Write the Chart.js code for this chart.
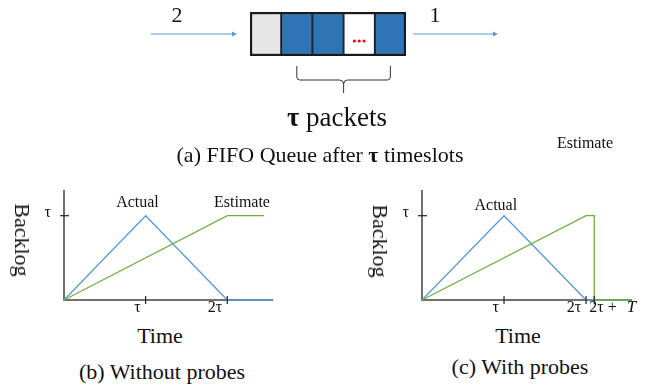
<!DOCTYPE html>
<html>
<head>
<meta charset="utf-8">
<script src="https://cdn.jsdelivr.net/npm/chart.js@4.4.0/dist/chart.umd.min.js"></script>
<style>
body { margin: 0; background: #fff; }
#page { position: relative; width: 651px; height: 390px; overflow: hidden; font-family: 'Liberation Serif', 'Times New Roman', serif; color: #111; }
canvas { position: absolute; }
.lbl { position: absolute; white-space: nowrap; line-height: 1; transform: translate(-50%, -50%); }
.vert { transform: translate(-50%, -50%) rotate(90deg); }
</style>
</head>
<body>
<div id="page">
  <canvas id="queueChart" width="651" height="170" style="left:0;top:0"></canvas>
  <canvas id="chartB" width="330" height="140" style="left:0;top:180px"></canvas>
  <canvas id="chartC" width="321" height="140" style="left:330px;top:180px"></canvas>

  <div class="lbl" style="left:177px;top:15px;font-size:22px">2</div>
  <div class="lbl" style="left:435px;top:15px;font-size:22px">1</div>
  <div class="lbl" style="left:337px;top:117px;font-size:27px"><b>τ</b> packets</div>
  <div class="lbl" style="left:320px;top:155px;font-size:22px">(a) FIFO Queue after <b>τ</b> timeslots</div>
  <div class="lbl" style="left:585px;top:143px;font-size:16px">Estimate</div>

  <div class="lbl vert" style="left:22px;top:240px;font-size:22px">Backlog</div>
  <div class="lbl" style="left:160px;top:336px;font-size:22px">Time</div>
  <div class="lbl" style="left:162px;top:372px;font-size:22px">(b) Without probes</div>

  <div class="lbl vert" style="left:380px;top:241px;font-size:22px">Backlog</div>
  <div class="lbl" style="left:518px;top:336px;font-size:22px">Time</div>
  <div class="lbl" style="left:520px;top:367px;font-size:22px">(c) With probes</div>
</div>
<script>
// queue after tau timeslots: one cell per slot
var queueCells = ['empty', 'packet', 'packet', 'gap', 'packet'];
var cellColors = { empty: '#e6e6e6', packet: '#2e75b6', gap: '#ffffff' };

// backlog curves, time in units of tau, backlog in units of tau
var actualTimeB = [0, 1, 2, 2.55];
var actualBacklogB = [0, 1, 0, 0];
var estimateTimeB = [0, 2, 2.45];
var estimateBacklogB = [0, 1, 1];

var actualTimeC = [0, 1, 2, 2.55];
var actualBacklogC = [0, 1, 0, 0];
var estimateTimeC = [0, 2, 2.1, 2.1, 2.55];
var estimateBacklogC = [0, 1, 1, 0, 0];

var xTicksB = [1, 2];
var xTickLabelsB = ['τ', '2τ'];
var xTicksC = [1, 2, 2.1];
var xTickLabelsC = ['τ', '2τ', '2τ + T'];
var yTicks = [1];
var yTickLabels = ['τ'];

Chart.defaults.font.family = "'Liberation Serif', 'Times New Roman', serif";

function puntos(xs, ys) {
    let res = [];
    for (let i = 0; i < xs.length; i++) {
        res.push({ x: xs[i], y: ys[i] });
    }
    return res;
}

var queuePlugin = {
    id: 'queueDeco',
    afterDatasetsDraw: function (chart) {
        const ctx = chart.ctx;
        const a = chart.chartArea;
        const x = chart.scales.x;
        const midY = (a.top + a.bottom) / 2;
        ctx.save();

        // red dots in the gap cell
        let gap = queueCells.indexOf('gap');
        let cx = x.getPixelForValue(gap + 0.5);
        ctx.fillStyle = '#ff0000';
        for (let k = -1; k <= 1; k++) {
            ctx.beginPath();
            ctx.arc(cx + k * 4.8, midY + 7, 1.6, 0, Math.PI * 2);
            ctx.fill();
        }

        // in / out arrows
        ctx.strokeStyle = '#5b9bd5';
        ctx.fillStyle = '#5b9bd5';
        ctx.lineWidth = 1;
        function flecha(x0, x1) {
            ctx.beginPath();
            ctx.moveTo(x0, midY);
            ctx.lineTo(x1 - 4, midY);
            ctx.stroke();
            ctx.beginPath();
            ctx.moveTo(x1, midY);
            ctx.lineTo(x1 - 5, midY - 2.5);
            ctx.lineTo(x1 - 5, midY + 2.5);
            ctx.closePath();
            ctx.fill();
        }
        flecha(a.left - 99, a.left - 13);
        flecha(a.right + 7, a.right + 92);

        // brace under the tau packets
        let b0 = x.getPixelForValue(1.5);
        let b1 = x.getPixelForValue(4.5);
        let bm = (b0 + b1) / 2;
        let top = a.bottom + 10, mid = a.bottom + 24, tip = a.bottom + 37;
        ctx.strokeStyle = '#333';
        ctx.lineWidth = 1;
        ctx.beginPath();
        ctx.moveTo(b0, top);
        ctx.lineTo(b0, mid - 3);
        ctx.quadraticCurveTo(b0, mid, b0 + 3, mid);
        ctx.lineTo(bm - 4, mid);
        ctx.quadraticCurveTo(bm, mid, bm, mid + 4);
        ctx.quadraticCurveTo(bm, mid, bm + 4, mid);
        ctx.lineTo(b1 - 3, mid);
        ctx.quadraticCurveTo(b1, mid, b1, mid - 3);
        ctx.lineTo(b1, top);
        ctx.stroke();
        ctx.beginPath();
        ctx.moveTo(bm, mid + 3);
        ctx.lineTo(bm, tip);
        ctx.stroke();
        ctx.restore();
    }
};

var axesPlugin = {
    id: 'backlogAxes',
    beforeDatasetsDraw: function (chart) {
        const ctx = chart.ctx;
        const a = chart.chartArea;
        ctx.save();
        ctx.strokeStyle = '#404040';
        ctx.lineWidth = 1.5;
        ctx.beginPath();
        ctx.moveTo(a.left, a.top);
        ctx.lineTo(a.left, a.bottom);
        ctx.lineTo(a.right, a.bottom);
        ctx.stroke();
        ctx.restore();
    },
    afterDatasetsDraw: function (chart, args, opts) {
        const ctx = chart.ctx;
        const a = chart.chartArea;
        const sx = chart.scales.x, sy = chart.scales.y;
        const fam = Chart.defaults.font.family;
        ctx.save();
        ctx.strokeStyle = '#222';
        ctx.fillStyle = '#111';
        ctx.lineWidth = 1.2;
        ctx.font = '16px ' + fam;
        ctx.textBaseline = 'alphabetic';

        for (let i = 0; i < opts.xTicks.length; i++) {
            let px = sx.getPixelForValue(opts.xTicks[i]);
            ctx.beginPath();
            ctx.moveTo(px, a.bottom - 4);
            ctx.lineTo(px, a.bottom + 4);
            ctx.stroke();
            let txt = opts.xLabels[i];
            if (txt.slice(-1) === 'T') {
                // last glyph in italic, a bit apart
                let base = txt.slice(0, -1);
                let lx = px - 5;
                ctx.textAlign = 'left';
                ctx.fillText(base, lx, a.bottom + 12);
                lx += ctx.measureText(base).width + 6;
                ctx.font = 'italic 17px ' + fam;
                ctx.fillText('T', lx, a.bottom + 12);
                ctx.font = '16px ' + fam;
            } else {
                ctx.textAlign = 'right';
                ctx.fillText(txt, px - 5, a.bottom + 12);
            }
        }
        for (let i = 0; i < opts.yTicks.length; i++) {
            let py = sy.getPixelForValue(opts.yTicks[i]);
            ctx.beginPath();
            ctx.moveTo(a.left - 4, py);
            ctx.lineTo(a.left + 5, py);
            ctx.stroke();
            ctx.textAlign = 'right';
            ctx.fillText(opts.yLabels[i], a.left - 13, py + 1);
        }

        ctx.font = '16px ' + fam;
        ctx.textAlign = 'center';
        opts.notes.forEach(function (n) {
            ctx.fillText(n.text, sx.getPixelForValue(n.x), sy.getPixelForValue(n.y) + n.dy);
        });
        ctx.restore();
    }
};

function construirQueue() {
    let last = queueCells.length - 1;
    let datasets = queueCells.map(function (c, i) {
        return {
            data: [1],
            backgroundColor: cellColors[c],
            borderColor: '#1a1a1a',
            borderWidth: { top: 2.5, bottom: 2.5, left: i === 0 ? 2.5 : 1.25, right: i === last ? 2.5 : 1.25 },
            borderSkipped: false,
            barPercentage: 1,
            categoryPercentage: 1
        };
    });
    new Chart(document.getElementById('queueChart'), {
        type: 'bar',
        data: { labels: ['queue'], datasets: datasets },
        options: {
            indexAxis: 'y',
            responsive: false,
            animation: false,
            layout: { padding: { left: 250, right: 245, top: 12, bottom: 114 } },
            scales: {
                x: { stacked: true, min: 0, max: queueCells.length, display: false },
                y: { stacked: true, display: false }
            },
            plugins: { legend: { display: false }, tooltip: { enabled: false } }
        },
        plugins: [queuePlugin]
    });
}

function construirBacklog(id, actual, estimate, xTicks, xLabels, padding, notes) {
    new Chart(document.getElementById(id), {
        type: 'line',
        data: {
            datasets: [
                { label: 'Estimate', data: estimate, borderColor: '#70ad47', borderWidth: 1.3, pointRadius: 0, tension: 0, clip: false, order: 0 },
                { label: 'Actual', data: actual, borderColor: '#5b9bd5', borderWidth: 1.3, pointRadius: 0, tension: 0, clip: false, order: 1 }
            ]
        },
        options: {
            responsive: false,
            animation: false,
            layout: { padding: padding },
            scales: {
                x: { type: 'linear', min: 0, max: 2.56, display: false },
                y: { type: 'linear', min: 0, max: 1.305, display: false }
            },
            plugins: {
                legend: { display: false },
                tooltip: { enabled: false },
                backlogAxes: { xTicks: xTicks, xLabels: xLabels, yTicks: yTicks, yLabels: yTickLabels, notes: notes }
            }
        },
        plugins: [axesPlugin]
    });
}

construirQueue();
construirBacklog('chartB', puntos(actualTimeB, actualBacklogB), puntos(estimateTimeB, estimateBacklogB),
    xTicksB, xTickLabelsB, { left: 64, right: 57, top: 10, bottom: 20 },
    [{ text: 'Actual', x: 0.9, y: 1, dy: -9 }, { text: 'Estimate', x: 2.18, y: 1, dy: -9 }]);
construirBacklog('chartC', puntos(actualTimeC, actualBacklogC), puntos(estimateTimeC, estimateBacklogC),
    xTicksC, xTickLabelsC, { left: 92, right: 19, top: 10, bottom: 20 },
    [{ text: 'Actual', x: 0.9, y: 1, dy: -6 }]);
</script>
</body>
</html>
